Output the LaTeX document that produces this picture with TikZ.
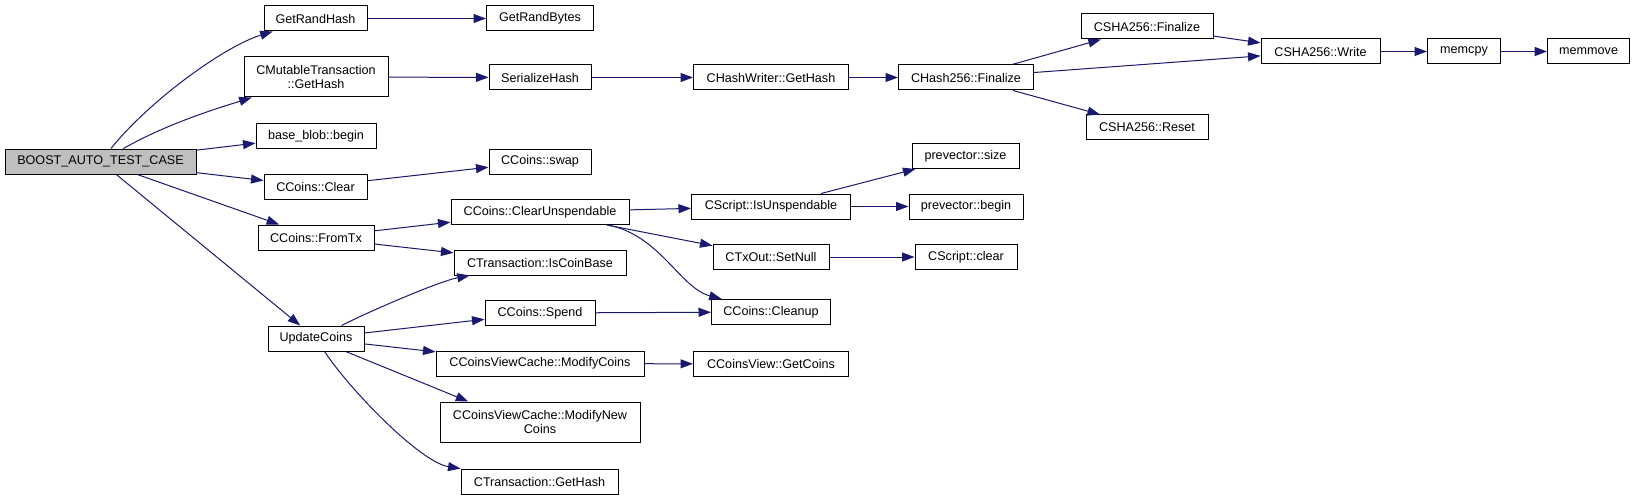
\documentclass[tikz,border=0pt]{standalone}
\usepackage{fontspec}
\setmainfont{Liberation Sans}
\usetikzlibrary{arrows.meta,calc}
\definecolor{edgeblue}{HTML}{191970}
\definecolor{rootgray}{HTML}{BFBFBF}
\begin{document}
\begin{tikzpicture}[x=1pt,y=-1pt,
  fn/.style={draw=black, line width=1pt, fill=white, inner sep=0pt, minimum height=25pt,
    font=\fontsize{12.6}{14.3}\selectfont, align=center},
  root/.style={fn, fill=rootgray},
  call/.style={draw=edgeblue, line width=1pt, -{Triangle[length=12.5pt,width=9pt]}}]
\useasboundingbox (0,0) rectangle (1635,500);
\fill[white] (0,0) rectangle (1635,500);

% column 0
\node[root, minimum width=191pt] (boost) at (100.5,161.5) {BOOST\_AUTO\_TEST\_CASE};
% column 1
\node[fn, minimum width=103pt] (getrandhash) at (315.5,18.5) {GetRandHash};
\node[fn, minimum width=144pt, minimum height=40pt] (cmutable) at (316,77) {CMutableTransaction\\::GetHash};
\node[fn, minimum width=120pt] (baseblob) at (316,136) {base\_blob::begin};
\node[fn, minimum width=103pt] (cclear) at (315.5,186.5) {CCoins::Clear};
\node[fn, minimum width=116pt] (fromtx) at (316,237.5) {CCoins::FromTx};
\node[fn, minimum width=96pt] (updatecoins) at (316,338.5) {UpdateCoins};
% column 2
\node[fn, minimum width=107pt] (getrandbytes) at (540,18.5) {GetRandBytes};
\node[fn, minimum width=102pt] (serializehash) at (540,77.5) {SerializeHash};
\node[fn, minimum width=102pt] (cswap) at (540,161.5) {CCoins::swap};
\node[fn, minimum width=178pt] (clearunsp) at (540,212) {CCoins::ClearUnspendable};
\node[fn, minimum width=172pt] (iscoinbase) at (540,262.5) {CTransaction::IsCoinBase};
\node[fn, minimum width=110pt] (spend) at (540,313) {CCoins::Spend};
\node[fn, minimum width=208pt] (modifycoins) at (540,363.5) {CCoinsViewCache::ModifyCoins};
\node[fn, minimum width=200pt, minimum height=40pt] (modifynew) at (540,422) {CCoinsViewCache::ModifyNew\\Coins};
\node[fn, minimum width=157pt] (ctxgethash) at (539.5,481.5) {CTransaction::GetHash};
% column 3
\node[fn, minimum width=155pt] (chashwriter) at (771,77.5) {CHashWriter::GetHash};
\node[fn, minimum width=159pt] (isunsp) at (771,206.5) {CScript::IsUnspendable};
\node[fn, minimum width=116pt] (setnull) at (771,257) {CTxOut::SetNull};
\node[fn, minimum width=119pt] (cleanup) at (771,312) {CCoins::Cleanup};
\node[fn, minimum width=155pt] (getcoins) at (771,364) {CCoinsView::GetCoins};
% column 4
\node[fn, minimum width=135pt] (chash256) at (966,77.5) {CHash256::Finalize};
\node[fn, minimum width=107pt] (psize) at (965.5,156) {prevector::size};
\node[fn, minimum width=114pt] (pbegin) at (966,206.5) {prevector::begin};
\node[fn, minimum width=102pt] (sclear) at (966,257) {CScript::clear};
% column 5
\node[fn, minimum width=132pt] (shafinal) at (1147,26.5) {CSHA256::Finalize};
\node[fn, minimum width=122pt] (shareset) at (1147,127.5) {CSHA256::Reset};
% column 6
\node[fn, minimum width=119pt] (shawrite) at (1320.5,51.5) {CSHA256::Write};
\node[fn, minimum width=73pt] (memcpy) at (1464,51.5) {memcpy};
\node[fn, minimum width=82pt] (memmove) at (1588.6,51.5) {memmove};

% edges from root
\draw[call] (boost) .. controls (150,100) and (225,46) .. (getrandhash);
\draw[call] (boost) .. controls (170,122) and (225,106) .. (cmutable);
\draw[call] (boost) -- (baseblob);
\draw[call] (boost) -- (cclear);
\draw[call] (boost) -- (fromtx);
\draw[call] (boost) -- (updatecoins);
% column 1 -> 2
\draw[call] (getrandhash) -- (getrandbytes);
\draw[call] (cmutable) -- (serializehash);
\draw[call] (cclear) -- (cswap);
\draw[call] (fromtx) -- (clearunsp);
\draw[call] (fromtx) -- (iscoinbase);
\draw[call] (updatecoins) .. controls (370,311) and (440,281) .. (iscoinbase);
\draw[call] (updatecoins) -- (spend);
\draw[call] (updatecoins) -- (modifycoins);
\draw[call] ($(updatecoins.south)+(29.7,0)$) -- ($(modifynew.north)+(-71.7,0)$);
\draw[call] (updatecoins) .. controls (350,390) and (420,462) .. (ctxgethash);
% column 2 -> 3
\draw[call] (serializehash) -- (chashwriter);
\draw[call] (clearunsp) -- (isunsp);
\draw[call] (clearunsp) -- (setnull);
\draw[call] (clearunsp) .. controls (660,235) and (680,288) .. (cleanup);
\draw[call] (spend) -- (cleanup);
\draw[call] (modifycoins) -- (getcoins);
% column 3 -> 4
\draw[call] (chashwriter) -- (chash256);
\draw[call] (isunsp) -- (psize);
\draw[call] (isunsp) -- (pbegin);
\draw[call] (setnull) -- (sclear);
% column 4 -> 5/6
\draw[call] (chash256) -- (shafinal);
\draw[call] (chash256) -- (shawrite);
\draw[call] (chash256) -- (shareset);
\draw[call] (shafinal) -- (shawrite);
\draw[call] (shawrite) -- (memcpy);
\draw[call] (memcpy) -- (memmove);
\end{tikzpicture}
\end{document}
